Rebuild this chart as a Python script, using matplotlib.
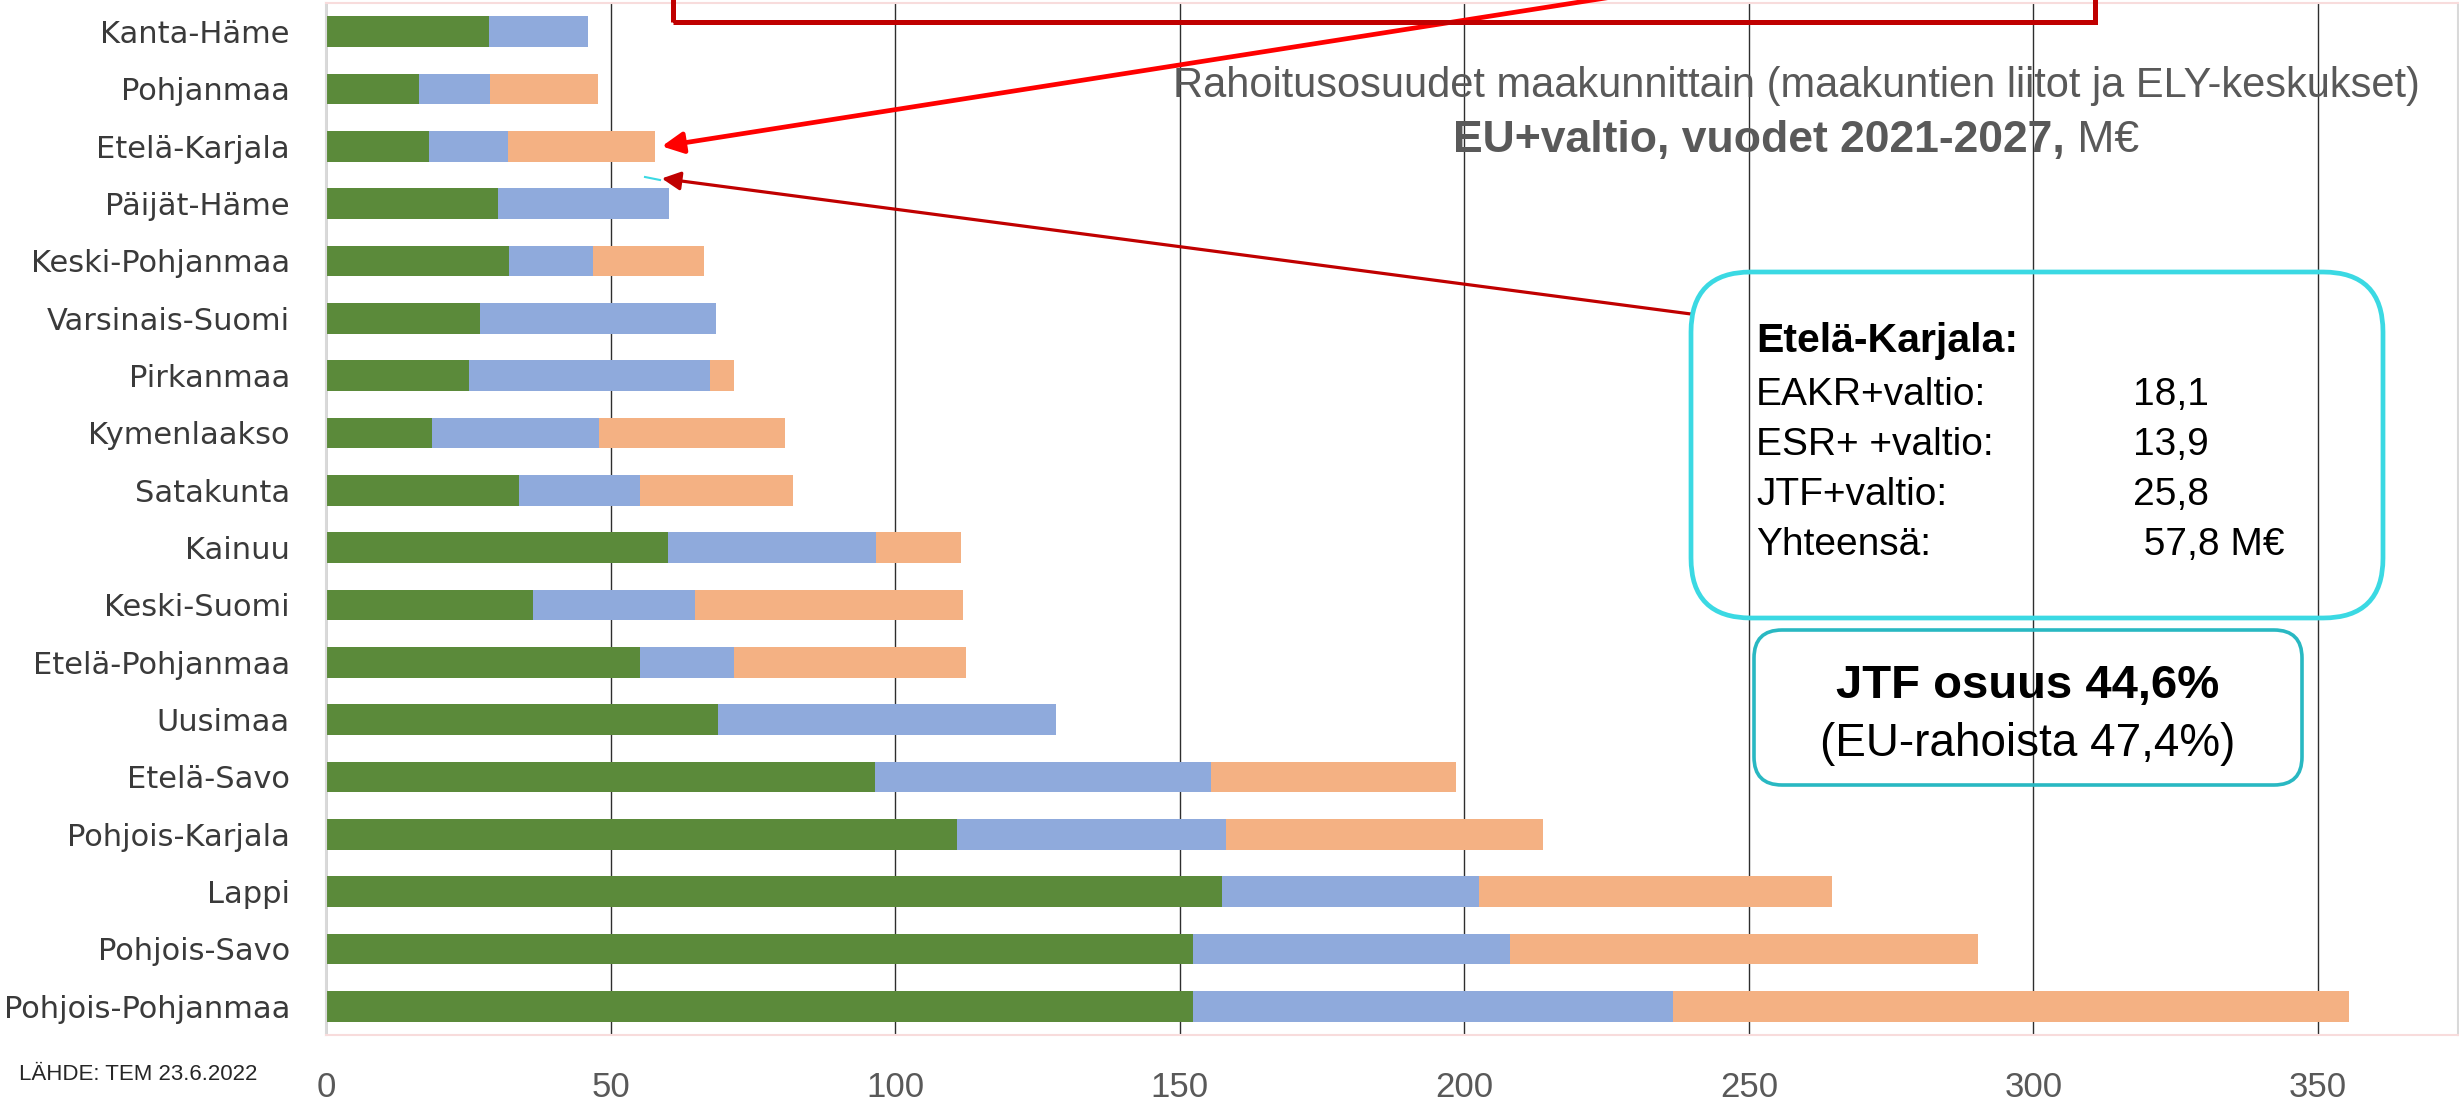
import numpy as np
import matplotlib
matplotlib.use("Agg")
import matplotlib.pyplot as plt
from matplotlib.patches import FancyBboxPatch, Rectangle
from matplotlib.lines import Line2D
from matplotlib.transforms import IdentityTransform

W, H, DPI = 2459, 1110, 100

GREEN = "#5B8A3A"   # EAKR + valtio
BLUE = "#8FAADC"    # ESR+ + valtio
ORANGE = "#F4B183"  # JTF + valtio
GRAY = "#595959"

regions = ["Kanta-Häme", "Pohjanmaa", "Etelä-Karjala", "Päijät-Häme", "Keski-Pohjanmaa",
           "Varsinais-Suomi", "Pirkanmaa", "Kymenlaakso", "Satakunta", "Kainuu",
           "Keski-Suomi", "Etelä-Pohjanmaa", "Uusimaa", "Etelä-Savo", "Pohjois-Karjala",
           "Lappi", "Pohjois-Savo", "Pohjois-Pohjanmaa"]
eakr = [28.6, 16.4, 18.1, 30.2, 32.1, 27.1, 25.1, 18.7, 33.9, 60.1,
        36.3, 55.1, 68.9, 96.5, 110.8, 157.4, 152.4, 152.3]
esr = [17.5, 12.4, 13.9, 30.0, 14.8, 41.4, 42.3, 29.3, 21.3, 36.6,
       28.5, 16.6, 59.3, 59.0, 47.4, 45.2, 55.7, 84.4]
jtf = [0.0, 19.0, 25.8, 0.0, 19.6, 0.0, 4.3, 32.7, 26.8, 14.9,
       47.1, 40.8, 0.0, 43.0, 55.7, 62.0, 82.1, 118.8]
xticks = [0, 50, 100, 150, 200, 250, 300, 350]

eakr, esr, jtf = np.array(eakr), np.array(esr), np.array(jtf)
ypos = np.arange(len(regions))


def px(x, y):
    # image pixel (origin top-left) -> display coords (origin bottom-left)
    return (x, H - y)


fig = plt.figure(figsize=(W / DPI, H / DPI), dpi=DPI)
ax = fig.add_axes([326 / W, (H - 1035) / H, (2458 - 326) / W, (1035 - 3) / H])

bh = 0.53
ax.barh(ypos, eakr, height=bh, color=GREEN, zorder=2)
ax.barh(ypos, esr, left=eakr, height=bh, color=BLUE, zorder=2)
ax.barh(ypos, jtf, left=eakr + esr, height=bh, color=ORANGE, zorder=2)

ax.set_xlim(0, 374.6)
ax.set_ylim(len(regions) - 0.5, -0.5)
ax.set_xticks(xticks)
ax.set_yticks(ypos)
ax.set_yticklabels(regions, fontsize=22, color="#3A3A3A", family="DejaVu Sans")
ax.set_xticklabels([str(t) for t in xticks], fontsize=25, color=GRAY, family="Liberation Sans")
ax.tick_params(axis="y", length=0, pad=26)
ax.tick_params(axis="x", length=0, pad=26)
ax.grid(axis="x", color="#2E2E2E", lw=1.0, zorder=0)
ax.set_axisbelow(True)
ax.spines["left"].set_color("#D9D9D9")
ax.spines["right"].set_color("#D9D9D9")
ax.spines["top"].set_color("#F8DCDC")
ax.spines["bottom"].set_color("#F8DCDC")
for s in ax.spines.values():
    s.set_linewidth(1.5)

idt = IdentityTransform()
SANS = "Liberation Sans"

# title (two lines)
fig.text(*px(1796, 97), "Rahoitusosuudet maakunnittain (maakuntien liitot ja ELY-keskukset)",
         transform=idt, ha="center", va="baseline", fontsize=30, color=GRAY, family=SANS)
r = fig.canvas.get_renderer()
t_bold = fig.text(0, 0, "EU+valtio, vuodet 2021-2027,", transform=idt, fontsize=32,
                  fontweight="bold", color=GRAY, family=SANS, va="baseline")
t_reg = fig.text(0, 0, " M€", transform=idt, fontsize=32, color=GRAY, family=SANS, va="baseline")
w1 = t_bold.get_window_extent(r).width
w2 = t_reg.get_window_extent(r).width
x0 = 1796 - (w1 + w2) / 2
t_bold.set_position(px(x0, 152))
t_reg.set_position(px(x0 + w1, 152))

# red rectangle at top (cut by the image edge)
fig.add_artist(Rectangle(px(673, 22), 2095 - 673, 60, transform=idt, fill=False,
                         edgecolor="#C00000", lw=3.6, zorder=5))

# info box for Etelä-Karjala
fig.add_artist(FancyBboxPatch(px(1691, 618), 2383 - 1691, 618 - 272, transform=idt,
                              boxstyle="round,pad=0,rounding_size=60", fill=False,
                              edgecolor="#3BD9E3", lw=3.4, zorder=5))
fig.text(*px(1756, 352), "Etelä-Karjala:", transform=idt, fontsize=29.5, fontweight="bold",
         color="black", family=SANS, va="baseline")
rows = [("EAKR+valtio:", "18,1"), ("ESR+ +valtio:", "13,9"),
        ("JTF+valtio:", "25,8"), ("Yhteensä:", " 57,8 M€")]
for i, (lab, val) in enumerate(rows):
    yb = 405 + i * 50
    fig.text(*px(1756, yb), lab, transform=idt, fontsize=28, color="black", family=SANS, va="baseline")
    fig.text(*px(2133, yb), val, transform=idt, fontsize=28, color="black", family=SANS, va="baseline")

# JTF share box
fig.add_artist(FancyBboxPatch(px(1754, 785), 2302 - 1754, 785 - 630, transform=idt,
                              boxstyle="round,pad=0,rounding_size=28", fill=False,
                              edgecolor="#29B8C2", lw=2.6, zorder=5))
fig.text(*px(2028, 698), "JTF osuus 44,6%", transform=idt, fontsize=34, fontweight="bold",
         color="black", family=SANS, ha="center", va="baseline")
fig.text(*px(2028, 756), "(EU-rahoista 47,4%)", transform=idt, fontsize=33,
         color="black", family=SANS, ha="center", va="baseline")

# arrows pointing at Etelä-Karjala
ek = regions.index("Etelä-Karjala")
ek_total = eakr[ek] + esr[ek] + jtf[ek]
ax.annotate("", xy=(ek_total + 1.2, ek), xycoords="data",
            xytext=px(1720, -20), textcoords=idt,
            arrowprops=dict(arrowstyle="-|>", color="#FF0000", lw=3.4, mutation_scale=32,
                            shrinkA=0, shrinkB=0), annotation_clip=False, zorder=6)
ax.annotate("", xy=(ek_total + 1.2, ek + 0.56), xycoords="data",
            xytext=px(1691, 314), textcoords=idt,
            arrowprops=dict(arrowstyle="-|>", color="#C00000", lw=2.3, mutation_scale=28,
                            shrinkA=0, shrinkB=0), annotation_clip=False, zorder=6)
fig.add_artist(Line2D([645, 660], [H - 177, H - 180], transform=idt, color="#3BD9E3", lw=1.5))

# source
fig.text(*px(19, 1080), "LÄHDE: TEM 23.6.2022", transform=idt, fontsize=16,
         color="#262626", family=SANS, va="baseline")

fig.savefig("out.png", dpi=DPI, facecolor="white")
